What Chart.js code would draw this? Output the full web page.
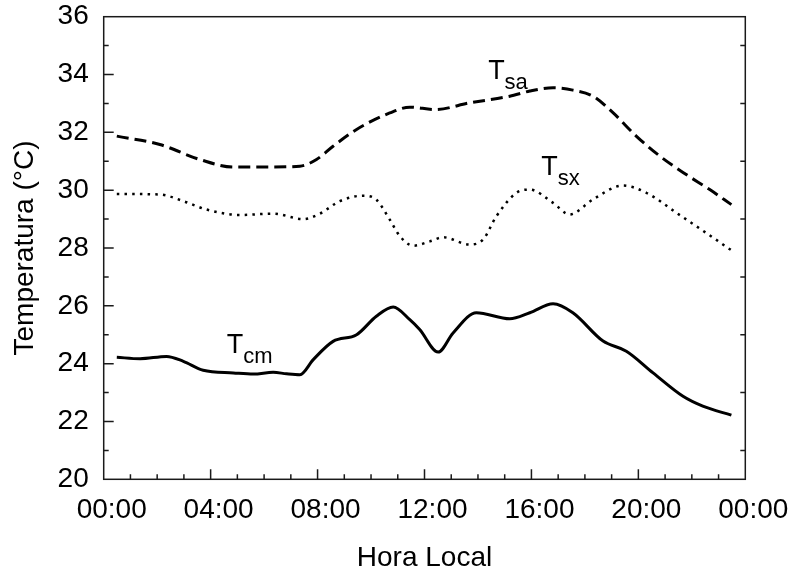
<!DOCTYPE html>
<html><head><meta charset="utf-8">
<script src="https://cdn.jsdelivr.net/npm/chart.js@4/dist/chart.umd.min.js"></script>
<style>html,body{margin:0;padding:0;background:#fff;overflow:hidden}#wrap{width:789px;height:575px}</style>
</head><body><div id="wrap"><canvas id="c" width="789" height="575"></canvas></div>
<script>
// ---- data (hours since local midnight, temperature in °C) ----
const tsaHours  = [0.49, 2.1, 3.6, 4.85, 6.1, 7.34, 7.96, 8.58, 9.46, 10.7, 11.45, 12.4, 13.69, 15.19, 15.94, 16.81, 17.55, 18.3, 19.05, 19.92, 20.8, 21.79, 22.67, 23.48];
const tsaValues = [31.87, 31.58, 31.06, 30.80, 30.80, 30.83, 31.06, 31.52, 32.10, 32.67, 32.87, 32.79, 33.02, 33.25, 33.43, 33.54, 33.46, 33.25, 32.68, 31.87, 31.18, 30.54, 30.02, 29.50];

const tsxHours  = [0.49, 2.1, 2.98, 3.85, 5.1, 6.34, 7.46, 8.09, 8.83, 9.71, 10.2, 10.7, 11.08, 11.58, 12.2, 12.7, 13.69, 14.19, 14.69, 15.44, 15.94, 16.81, 17.43, 18.3, 19.42, 20.3, 21.42, 22.54, 23.48];
const tsxValues = [29.87, 29.85, 29.62, 29.33, 29.14, 29.19, 29.00, 29.19, 29.62, 29.81, 29.67, 28.98, 28.41, 28.08, 28.23, 28.37, 28.12, 28.29, 29.10, 29.91, 30.02, 29.56, 29.16, 29.68, 30.16, 29.91, 29.22, 28.52, 27.92];

const tcmHours  = [0.49, 1.36, 2.35, 2.98, 3.72, 4.85, 5.6, 6.34, 6.84, 7.34, 7.84, 8.58, 9.46, 10.2, 10.83, 11.45, 11.82, 12.51, 13.07, 13.94, 15.19, 15.94, 16.81, 17.55, 18.68, 19.55, 20.55, 21.67, 22.41, 23.48];
const tcmValues = [24.22, 24.17, 24.25, 24.08, 23.77, 23.68, 23.64, 23.70, 23.65, 23.62, 24.14, 24.77, 25.00, 25.64, 25.96, 25.52, 25.18, 24.40, 25.06, 25.76, 25.55, 25.76, 26.07, 25.76, 24.78, 24.43, 23.68, 22.87, 22.53, 22.22];

const xTickHours = [0, 4, 8, 12, 16, 20, 24];
const xTickLabels = ['00:00', '04:00', '08:00', '12:00', '16:00', '20:00', '00:00'];
const yTicks = [20, 22, 24, 26, 28, 30, 32, 34, 36];

const seriesLabels = [
  {main: 'T', sub: 'sa', hour: 14.38, temp: 33.83},
  {main: 'T', sub: 'sx', hour: 16.37, temp: 30.52},
  {main: 'T', sub: 'cm', hour: 4.60,  temp: 24.36}
];

const FONT = '"Liberation Sans", Arial, sans-serif';
const pts = (hs, vs) => hs.map((h, i) => ({x: h, y: vs[i]}));

const frame = {
  id: 'frame',
  afterDatasetsDraw(chart) {
    const {ctx, chartArea: a, scales: {x, y}} = chart;
    ctx.save();
    ctx.strokeStyle = '#1a1a1a';
    ctx.lineWidth = 1.5;
    ctx.strokeRect(a.left, a.top, a.right - a.left, a.bottom - a.top);
    ctx.beginPath();
    for (let h = 1; h < 24; h++) {
      const px = x.getPixelForValue(h);
      const len = h % 4 === 0 ? 10 : 5;
      ctx.moveTo(px, a.bottom); ctx.lineTo(px, a.bottom - len);
    }
    for (let t = 21; t < 36; t++) {
      const py = y.getPixelForValue(t);
      const len = t % 2 === 0 ? 10 : 5;
      ctx.moveTo(a.left, py); ctx.lineTo(a.left + len, py);
      if (t % 2 === 1) { ctx.moveTo(a.right, py); ctx.lineTo(a.right - 5, py); }
    }
    ctx.stroke();
    // series labels
    ctx.fillStyle = '#000';
    ctx.textBaseline = 'alphabetic';
    ctx.textAlign = 'left';
    seriesLabels.forEach(l => {
      const px = x.getPixelForValue(l.hour), py = y.getPixelForValue(l.temp);
      ctx.font = '27px ' + FONT;
      ctx.fillText(l.main, px, py);
      const w = ctx.measureText(l.main).width;
      ctx.font = '22px ' + FONT;
      ctx.fillText(l.sub, px + w, py + 10);
    });
    ctx.restore();
  }
};

new Chart(document.getElementById('c'), {
  type: 'line',
  data: {
    datasets: [
      {label: 'Tsa', data: pts(tsaHours, tsaValues), borderColor: '#000', borderWidth: 3, borderDash: [12, 6], pointRadius: 0, fill: false, cubicInterpolationMode: 'monotone'},
      {label: 'Tsx', data: pts(tsxHours, tsxValues), borderColor: '#000', borderWidth: 2.5, borderDash: [2.5, 5.2], pointRadius: 0, fill: false, cubicInterpolationMode: 'monotone'},
      {label: 'Tcm', data: pts(tcmHours, tcmValues), borderColor: '#000', borderWidth: 3, pointRadius: 0, fill: false, cubicInterpolationMode: 'monotone'}
    ]
  },
  options: {
    responsive: false,
    animation: false,
    events: [],
    layout: {padding: {left: 0, right: 43.7, top: 16.7, bottom: 0}},
    plugins: {legend: {display: false}, tooltip: {enabled: false}},
    scales: {
      x: {
        type: 'linear', position: 'bottom', min: 0, max: 24,
        afterBuildTicks: s => { s.ticks = xTickHours.map(v => ({value: v})); },
        ticks: {
          autoSkip: false, maxRotation: 0, minRotation: 0, padding: 14, labelOffset: 8,
          color: '#000', font: {family: FONT, size: 28},
          callback: (v) => xTickLabels[xTickHours.indexOf(v)]
        },
        grid: {display: false, drawTicks: false, drawOnChartArea: false},
        border: {display: false},
        title: {display: true, text: 'Hora Local', color: '#000', font: {family: FONT, size: 28}, padding: {top: 0, bottom: 0}},
        afterFit: s => { s.height = 95.7; s.paddingLeft = 0; s.paddingRight = 0; }
      },
      y: {
        type: 'linear', min: 20, max: 36,
        afterBuildTicks: s => { s.ticks = yTicks.map(v => ({value: v})); },
        ticks: {color: '#000', font: {family: FONT, size: 28}, padding: 15},
        grid: {display: false, drawTicks: false, drawOnChartArea: false},
        border: {display: false},
        title: {display: true, text: 'Temperatura (°C)', color: '#000', font: {family: FONT, size: 28}, padding: {top: 8, bottom: 0}},
        afterFit: s => { s.width = 103.7; s.paddingTop = 0; s.paddingBottom = 0; }
      }
    }
  },
  plugins: [frame]
});
</script>
</body></html>
